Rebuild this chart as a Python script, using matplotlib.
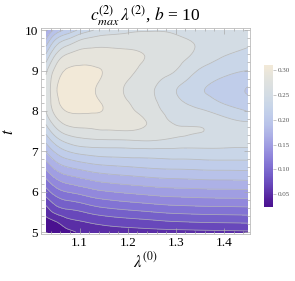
import numpy as np
import matplotlib.pyplot as plt
import matplotlib.tri as mtri
from matplotlib.colors import LinearSegmentedColormap, Normalize
from matplotlib.cm import ScalarMappable
from matplotlib.ticker import MultipleLocator

plt.rcParams['font.family'] = ['Liberation Serif', 'DejaVu Serif']
plt.rcParams['mathtext.fontset'] = 'stix'

# lambda^(0) columns and t rows of the sampled grid
lam0 = [1.03, 1.05, 1.075, 1.10, 1.125, 1.15, 1.20, 1.25, 1.30, 1.35, 1.40, 1.45]
t_vals = [5.0, 5.25, 5.5, 5.75, 6.0, 6.25, 6.5, 6.75, 7.0, 7.25, 7.5,
          7.75, 8.0, 8.25, 8.5, 8.75, 9.0, 9.25, 9.5, 9.75, 10.0]

# c_max^(2) lambda^(2), one list per lambda^(0) column (t from 5 to 10)
c2_lam2 = [
    [0.024, 0.0335, 0.047, 0.0687, 0.091, 0.113, 0.1355, 0.158, 0.182, 0.2045, 0.227,
     0.2467, 0.2602, 0.2612, 0.262, 0.261, 0.256, 0.2355, 0.211, 0.1824, 0.157],
    [0.029, 0.0388, 0.0652, 0.0873, 0.110, 0.1327, 0.156, 0.180, 0.204, 0.2286, 0.2524,
     0.2726, 0.287, 0.294, 0.297, 0.294, 0.286, 0.272, 0.250, 0.2224, 0.186],
    [0.035, 0.0524, 0.0742, 0.0971, 0.121, 0.1448, 0.169, 0.194, 0.220, 0.245, 0.2691,
     0.2884, 0.301, 0.306, 0.309, 0.307, 0.302, 0.2913, 0.272, 0.2438, 0.206],
    [0.042, 0.058, 0.0783, 0.102, 0.1267, 0.151, 0.1752, 0.201, 0.2274, 0.2524, 0.2736,
     0.2917, 0.302, 0.307, 0.310, 0.308, 0.303, 0.2959, 0.2812, 0.260, 0.224],
    [0.045, 0.0626, 0.0848, 0.109, 0.1333, 0.157, 0.181, 0.206, 0.2305, 0.255, 0.276,
     0.2908, 0.302, 0.305, 0.303, 0.305, 0.303, 0.2951, 0.283, 0.267, 0.238],
    [0.048, 0.0664, 0.0895, 0.114, 0.1381, 0.1618, 0.1848, 0.209, 0.2322, 0.256, 0.2783,
     0.290, 0.299, 0.297, 0.294, 0.297, 0.299, 0.292, 0.283, 0.270, 0.248],
    [0.051, 0.0714, 0.0952, 0.120, 0.1438, 0.167, 0.189, 0.2118, 0.2333, 0.257, 0.2795,
     0.286, 0.284, 0.280, 0.277, 0.280, 0.285, 0.286, 0.281, 0.270, 0.256],
    [0.053, 0.0752, 0.100, 0.1248, 0.1486, 0.1713, 0.193, 0.2142, 0.2338, 0.259, 0.273,
     0.276, 0.269, 0.264, 0.262, 0.265, 0.271, 0.277, 0.276, 0.268, 0.259],
    [0.054, 0.079, 0.104, 0.1286, 0.1518, 0.174, 0.195, 0.2158, 0.2343, 0.254, 0.2635,
     0.256, 0.249, 0.244, 0.2405, 0.249, 0.260, 0.266, 0.267, 0.263, 0.258],
    [0.055, 0.081, 0.106, 0.1305, 0.1536, 0.1757, 0.1967, 0.2168, 0.2345, 0.252, 0.2605,
     0.255, 0.2425, 0.231, 0.2225, 0.229, 0.238, 0.250, 0.2575, 0.2575, 0.255],
    [0.056, 0.082, 0.107, 0.1314, 0.1545, 0.1765, 0.1975, 0.2176, 0.2352, 0.248, 0.253,
     0.246, 0.231, 0.216, 0.210, 0.216, 0.226, 0.236, 0.245, 0.250, 0.252],
    [0.057, 0.083, 0.108, 0.1324, 0.1555, 0.1774, 0.1983, 0.2177, 0.2352, 0.246, 0.249,
     0.239, 0.219, 0.207, 0.198, 0.207, 0.220, 0.230, 0.238, 0.244, 0.247],
]

contour_levels = [0.04, 0.06, 0.08, 0.10, 0.12, 0.14, 0.16, 0.18, 0.20,
                  0.22, 0.24, 0.26, 0.28, 0.30]
cbar_ticks = [0.05, 0.10, 0.15, 0.20, 0.25, 0.30]
vmin, vmax = 0.024, 0.31

# colour stops (value, colour)
cmap_stops = [
    (0.024, "#4a1190"), (0.040, "#531f9c"), (0.050, "#5a2ea6"), (0.070, "#6848bb"),
    (0.090, "#7560c9"), (0.110, "#8374d4"), (0.130, "#9289dc"), (0.150, "#a09ee2"),
    (0.170, "#adb1e6"), (0.190, "#b8c2e9"), (0.210, "#c0cdea"), (0.230, "#c9d6e8"),
    (0.250, "#d3dce4"), (0.270, "#dce0e0"), (0.290, "#e5e4dc"), (0.305, "#f0e8d8"),
    (0.310, "#f2e9d8")]
cmap = LinearSegmentedColormap.from_list(
    "purple_beige", [((v - vmin) / (vmax - vmin), c) for v, c in cmap_stops])
norm = Normalize(vmin, vmax)

X, T = np.meshgrid(lam0, t_vals, indexing="ij")
Z = np.array(c2_lam2)
tri = mtri.Triangulation(X.ravel(), T.ravel())
refiner = mtri.UniformTriRefiner(tri)
tri_f, z_f = refiner.refine_field(Z.ravel(), subdiv=3)

fig = plt.figure(figsize=(2.95, 2.81), dpi=100)
ax = fig.add_axes([0.139, 0.167, 0.708, 0.733])

ax.tricontourf(tri_f, z_f, levels=[-1] + contour_levels + [1], cmap=cmap, norm=norm)
ax.tricontour(tri_f, z_f, levels=contour_levels, colors="#b4b4b4", linewidths=0.55, alpha=0.85)

ax.set_xlim(1.0196, 1.454)
ax.set_ylim(4.95, 10.05)
ax.set_xticks([1.1, 1.2, 1.3, 1.4])
ax.set_yticks([5, 6, 7, 8, 9, 10])
ax.xaxis.set_minor_locator(MultipleLocator(0.02))
ax.yaxis.set_minor_locator(MultipleLocator(0.2))
ax.tick_params(which="both", direction="in", top=True, right=True,
               color="#aaaaaa", width=0.5, labelsize=9.5, pad=2)
ax.tick_params(which="major", length=4)
ax.tick_params(which="minor", length=2)
for s in ax.spines.values():
    s.set_color("#bbbbbb")
    s.set_linewidth(0.6)

ax.set_title(r"$c^{(2)}_{max}\,\lambda^{(2)}$, $b$ = 10", fontsize=12.5, pad=4)
ax.set_xlabel(r"$\lambda^{(0)}$", fontsize=12, labelpad=2)
ax.set_ylabel(r"$t$", fontsize=12, labelpad=6)

cax = fig.add_axes([0.895, 0.263, 0.0305, 0.505])
cb = fig.colorbar(ScalarMappable(norm=norm, cmap=cmap), cax=cax, ticks=cbar_ticks)
cb.outline.set_visible(False)
cb.ax.set_yticklabels(["%.2f" % v for v in cbar_ticks])
cb.ax.tick_params(labelsize=5, length=2, width=0.4, color="#999999",
                  labelcolor="#555555", pad=1.5)

fig.savefig("out.png", dpi=100)
